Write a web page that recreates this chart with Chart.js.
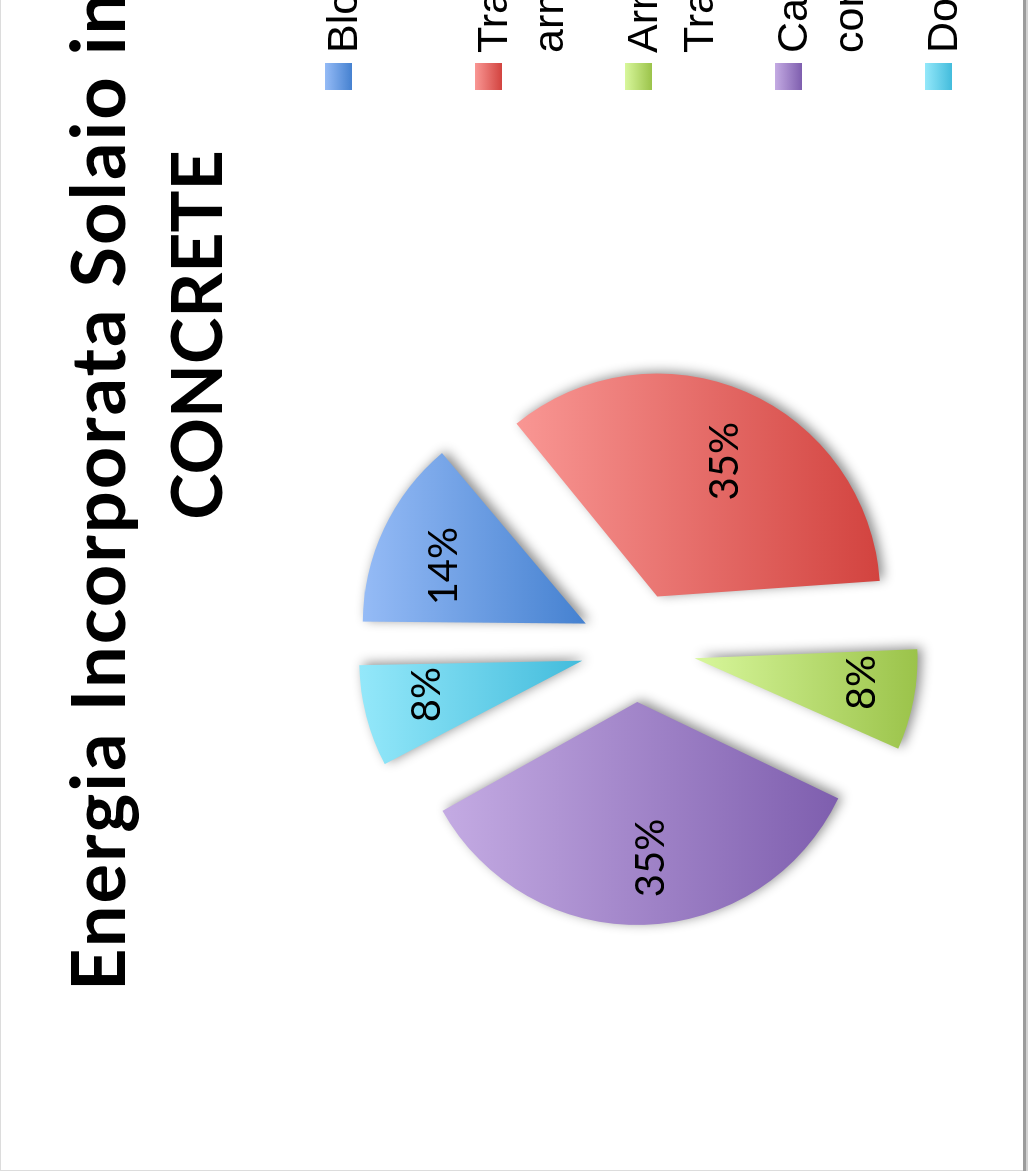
<!DOCTYPE html>
<html>
<head>
<meta charset="utf-8">
<script src="https://cdn.jsdelivr.net/npm/chart.js@4.4.1/dist/chart.umd.min.js"></script>
<style>
  html, body { margin: 0; padding: 0; overflow: hidden; background: #fff; width: 1028px; height: 1171px; }
  /* the chart sheet is laid out landscape and turned a quarter turn counter-clockwise */
  #sheet { position: absolute; left: 0; top: 1171px; width: 1171px; height: 1028px;
           transform-origin: 0 0; transform: rotate(-90deg); background: #fff; }
  #sheet canvas { display: block; }
</style>
</head>
<body>
<div id="sheet"><canvas id="chart" width="1171" height="1028"></canvas></div>
<script>
// ---- data ----
const titleLines = ['Energia Incorporata Solaio in', 'CONCRETE'];
const categories = [
  'Blocchi',
  ['Travetti', 'armati'],
  ['Armatura', 'Travetti'],
  ['Calcestruzzo', 'confezionato'],
  'Doppia rete'
];
const shares = [14, 35, 8, 35, 8];

// ---- styling ----
const lightColors = ['#95bbf6', '#f99794', '#d8f79c', '#c4abe3', '#94e8fa'];
const darkColors  = ['#4581d0', '#d2433f', '#9bc34a', '#7e5eae', '#43bcdc'];
const sliceShift = [55, 55, 60, 55, 55];   // how far each slice is pulled out
const labelNudge = [[-9, 0], [-8, 6], [5, 14], [0, 9], [5, -4]];
const PIE_RADIUS = 223;
const LABEL_POS = 0.7;                      // label distance as a share of the radius

const total = shares.reduce((a, b) => a + b, 0);

function sliceAngles(i) {
  let start = -Math.PI / 2;
  for (let k = 0; k < i; k++) start += shares[k] / total * Math.PI * 2;
  return [start, start + shares[i] / total * Math.PI * 2];
}

// vertical light-to-dark gradient spanning the slice's own height
function sliceGradient(ctx) {
  const chart = ctx.chart;
  const area = chart.chartArea;
  const i = ctx.dataIndex;
  if (!area || i === undefined) return darkColors[0];
  const [a0, a1] = sliceAngles(i);
  const cy = (area.top + area.bottom) / 2;
  let minY = cy, maxY = cy;
  for (let s = 0; s <= 64; s++) {
    const y = cy + Math.sin(a0 + (a1 - a0) * s / 64) * PIE_RADIUS;
    minY = Math.min(minY, y); maxY = Math.max(maxY, y);
  }
  const g = chart.ctx.createLinearGradient(0, minY, 0, maxY);
  g.addColorStop(0, lightColors[i]);
  g.addColorStop(1, darkColors[i]);
  return g;
}

// soft drop shadow under the slices + percentage labels
const sliceDecor = {
  id: 'sliceDecor',
  beforeDatasetsDraw(chart) {
    const ctx = chart.ctx;
    ctx.save();
    ctx.shadowColor = 'rgba(0,0,0,0.45)';
    ctx.shadowBlur = 12;
    ctx.shadowOffsetX = 2;
    ctx.shadowOffsetY = 4;
    // keep every slice at the same radius when it is pulled out
    chart.getDatasetMeta(0).data.forEach(arc => {
      const shift = (arc.options.offset || 0) / 4;
      const fix = 1 - Math.sin(Math.min(Math.PI, arc.circumference || 0));
      arc.$fullRadius = arc.outerRadius;
      arc.outerRadius = arc.outerRadius - shift * fix;
    });
  },
  afterDatasetsDraw(chart) {
    const ctx = chart.ctx;
    ctx.restore();
    const meta = chart.getDatasetMeta(0);
    ctx.save();
    ctx.font = '40px Lato';
    ctx.fillStyle = '#000';
    ctx.textAlign = 'center';
    ctx.textBaseline = 'middle';
    meta.data.forEach((arc, i) => {
      if (arc.$fullRadius !== undefined) arc.outerRadius = arc.$fullRadius;
      const mid = (arc.startAngle + arc.endAngle) / 2;
      const d = (arc.options.offset || 0) / 4 + LABEL_POS * arc.outerRadius;
      const pct = Math.round(shares[i] / total * 100) + '%';
      ctx.fillText(pct,
        arc.x + Math.cos(mid) * d + labelNudge[i][0],
        arc.y + Math.sin(mid) * d + labelNudge[i][1]);
    });
    ctx.restore();
  }
};

// frame, title and legend of the sheet
const sheetDecor = {
  id: 'sheetDecor',
  beforeDraw(chart) {
    const ctx = chart.ctx;
    const W = chart.width, H = chart.height;
    ctx.save();
    ctx.fillStyle = '#fff';
    ctx.fillRect(0, 0, W, H);
    ctx.fillStyle = '#dcdcdc';
    ctx.fillRect(0, 0, W, 1);
    ctx.fillRect(0, 0, 1, H);
    ctx.fillStyle = '#9c9c9c';
    ctx.fillRect(0, 1023, W, 3);
    ctx.fillStyle = '#d2d2d2';
    ctx.fillRect(0, 1026, W, 2);
    ctx.restore();
  },
  afterDraw(chart) {
    const ctx = chart.ctx;
    ctx.save();
    ctx.fillStyle = '#000';
    ctx.textBaseline = 'alphabetic';
    ctx.textAlign = 'left';
    ctx.font = 'bold 74px Lato';
    if ('letterSpacing' in ctx) ctx.letterSpacing = '2px';
    ctx.fillText(titleLines[0], 180, 125);
    if ('letterSpacing' in ctx) ctx.letterSpacing = '0px';
    ctx.font = 'bold 70px Lato';
    ctx.textAlign = 'center';
    ctx.fillText(titleLines[1], 836, 222);

    // legend
    ctx.textAlign = 'left';
    ctx.font = '43px "Liberation Sans"';
    categories.forEach((label, i) => {
      const top = 325 + 150 * i;
      const g = ctx.createLinearGradient(0, top, 0, top + 27);
      g.addColorStop(0, lightColors[i]);
      g.addColorStop(1, darkColors[i]);
      ctx.fillStyle = g;
      ctx.fillRect(1081, top, 27, 27);
      ctx.fillStyle = '#000';
      const lines = Array.isArray(label) ? label : [label];
      lines.forEach((line, k) => ctx.fillText(line, 1118, top + 32 + 56 * k));
    });
    ctx.restore();
  }
};

new Chart(document.getElementById('chart'), {
  type: 'pie',
  data: {
    labels: categories,
    datasets: [{
      data: shares,
      backgroundColor: sliceGradient,
      borderWidth: 0,
      offset: sliceShift.map(s => s * 4),
      radius: PIE_RADIUS
    }]
  },
  options: {
    responsive: false,
    animation: false,
    events: [],
    radius: PIE_RADIUS,
    layout: { padding: { left: 0, right: 123, top: 245, bottom: 2 } },
    plugins: {
      legend: { display: false },
      title: { display: false },
      tooltip: { enabled: false }
    }
  },
  plugins: [sheetDecor, sliceDecor]
});
</script>
</body>
</html>
